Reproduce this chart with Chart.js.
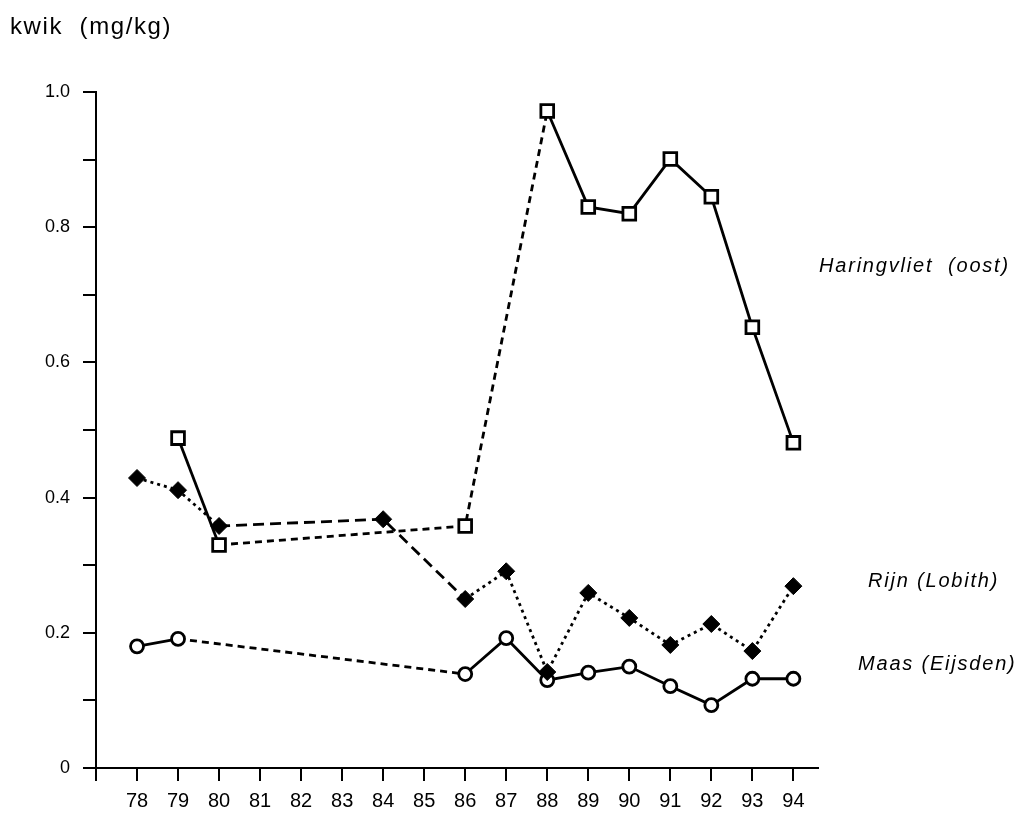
<!DOCTYPE html>
<html>
<head>
<meta charset="utf-8">
<title>kwik (mg/kg)</title>
<script src="https://cdn.jsdelivr.net/npm/chart.js@4.4.1/dist/chart.umd.min.js"></script>
<style>
    html, body { margin: 0; padding: 0; background: #ffffff; }
    #wrap { width: 1024px; height: 818px; }
</style>
</head>
<body>
<div id="wrap"><canvas id="kwikChart" width="1024" height="818"></canvas></div>
<script>
// Data
const haringYears = [79, 80, 86, 88, 89, 90, 91, 92, 93, 94];
const haringValues = [0.488, 0.330, 0.358, 0.972, 0.830, 0.820, 0.901, 0.845, 0.652, 0.481];

const rijnYears = [78, 79, 80, 84, 86, 87, 88, 89, 90, 91, 92, 93, 94];
const rijnValues = [0.429, 0.411, 0.358, 0.368, 0.250, 0.291, 0.142, 0.259, 0.222, 0.182, 0.213, 0.173, 0.269];

const maasYears = [78, 79, 86, 87, 88, 89, 90, 91, 92, 93, 94];
const maasValues = [0.180, 0.191, 0.139, 0.192, 0.130, 0.141, 0.150, 0.121, 0.093, 0.132, 0.132];

const seriesNames = ['Haringvliet  (oost)', 'Rijn (Lobith)', 'Maas (Eijsden)'];
const xTickYears = [78, 79, 80, 81, 82, 83, 84, 85, 86, 87, 88, 89, 90, 91, 92, 93, 94];
const yTickLabels = ['0', '0.2', '0.4', '0.6', '0.8', '1.0'];

// line style of each segment (from point i to i+1)
const haringSegs = ['solid', 'dashS', 'dashS', 'solid', 'solid', 'solid', 'solid', 'solid', 'solid'];
const rijnSegs = ['dot', 'dot', 'dashL', 'dashL', 'dot', 'dot', 'dot', 'dot', 'dot', 'dot', 'dot', 'dot'];
const maasSegs = ['solid', 'dashS', 'solid', 'solid', 'solid', 'solid', 'solid', 'solid', 'solid', 'solid'];

const dashes = {
    solid: [],
    dot: [3, 4],
    dashS: [7, 5],
    dashL: [11, 6]
};

const FONT = "'Liberation Sans', Arial, Helvetica, sans-serif";

function toPoints(xs, ys) {
    return xs.map((x, i) => ({ x: x, y: ys[i] }));
}

function segDash(list) {
    return ctx => dashes[list[ctx.p0DataIndex]] || [];
}

// Title and series labels drawn on the canvas
const labelPlugin = {
    id: 'labels',
    afterDraw(chart) {
        const ctx = chart.ctx;
        ctx.save();
        ctx.fillStyle = '#000';
        ctx.textBaseline = 'middle';
        ctx.textAlign = 'left';
        ctx.letterSpacing = '1.6px';
        ctx.font = '24px ' + FONT;
        ctx.fillText('kwik  (mg/kg)', 10, 27);

        ctx.font = 'italic 20px ' + FONT;
        ctx.letterSpacing = '1.8px';
        ctx.fillText(seriesNames[0], 819, 266);
        ctx.fillText(seriesNames[1], 868, 581);
        ctx.fillText(seriesNames[2], 858, 664);
        ctx.restore();
    }
};

document.addEventListener('DOMContentLoaded', () => {
    Chart.defaults.color = '#000';
    Chart.defaults.font.family = FONT;

    const canvas = document.getElementById('kwikChart');
    new Chart(canvas.getContext('2d'), {
        type: 'line',
        data: {
            datasets: [
                {
                    label: seriesNames[0],
                    data: toPoints(haringYears, haringValues),
                    borderColor: '#000',
                    borderWidth: 2.8,
                    pointStyle: 'rect',
                    pointRadius: 9,
                    pointBackgroundColor: '#fff',
                    pointBorderColor: '#000',
                    pointBorderWidth: 2.8,
                    segment: { borderDash: segDash(haringSegs) }
                },
                {
                    label: seriesNames[1],
                    data: toPoints(rijnYears, rijnValues),
                    borderColor: '#000',
                    borderWidth: 2.8,
                    pointStyle: 'rectRot',
                    pointRadius: 8.5,
                    pointBackgroundColor: '#000',
                    pointBorderColor: '#000',
                    pointBorderWidth: 1,
                    segment: { borderDash: segDash(rijnSegs) }
                },
                {
                    label: seriesNames[2],
                    data: toPoints(maasYears, maasValues),
                    borderColor: '#000',
                    borderWidth: 2.8,
                    pointStyle: 'circle',
                    pointRadius: 6.5,
                    pointBackgroundColor: '#fff',
                    pointBorderColor: '#000',
                    pointBorderWidth: 2.8,
                    segment: { borderDash: segDash(maasSegs) }
                }
            ]
        },
        options: {
            responsive: false,
            animation: false,
            devicePixelRatio: 1,
            layout: { padding: { left: 0, top: 92, right: 206, bottom: 0 } },
            plugins: {
                legend: { display: false },
                tooltip: { enabled: false },
                title: { display: false }
            },
            scales: {
                x: {
                    type: 'linear',
                    min: 77,
                    max: 94.6,
                    afterFit: scale => { scale.height = 50; },
                    border: { display: true, color: '#000', width: 2 },
                    grid: {
                        drawOnChartArea: false,
                        drawTicks: true,
                        tickLength: 13,
                        color: '#000',
                        lineWidth: 2
                    },
                    ticks: {
                        stepSize: 1,
                        includeBounds: false,
                        maxRotation: 0,
                        autoSkip: false,
                        padding: 8,
                        font: { size: 20 },
                        callback: v => xTickYears.includes(v) ? String(v) : ''
                    }
                },
                y: {
                    min: 0,
                    max: 1.0,
                    afterFit: scale => { scale.width = 96; },
                    border: { display: true, color: '#000', width: 2 },
                    grid: {
                        drawOnChartArea: false,
                        drawTicks: true,
                        tickLength: 13,
                        color: '#000',
                        lineWidth: 2
                    },
                    ticks: {
                        stepSize: 0.1,
                        autoSkip: false,
                        padding: 13,
                        font: { size: 18 },
                        callback: v => {
                            const k = Math.round(v * 10);
                            return k % 2 === 0 ? yTickLabels[k / 2] : '';
                        }
                    }
                }
            }
        },
        plugins: [labelPlugin]
    });
});
</script>
</body>
</html>
